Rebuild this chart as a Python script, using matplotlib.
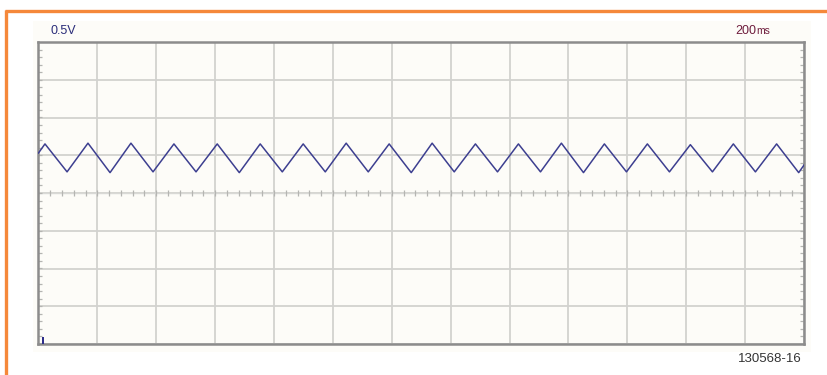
import numpy as np
import matplotlib.pyplot as plt
from matplotlib.patches import Rectangle
from matplotlib.lines import Line2D

# ── trace vertices (ms, V) ──────────────────────────────────────────────────
t_ms = [0, 22, 97, 168, 243, 314, 389, 460, 535, 607, 682, 753, 828, 899, 974,
        1045, 1120, 1191, 1266, 1337, 1412, 1484, 1559, 1630, 1705, 1776, 1851,
        1922, 1997, 2068, 2143, 2214, 2289, 2360, 2435, 2507, 2582, 2600]
volts = [0.53, 0.65, 0.28, 0.66, 0.27, 0.66, 0.28, 0.65, 0.28, 0.65, 0.27, 0.65,
         0.28, 0.65, 0.28, 0.66, 0.28, 0.65, 0.27, 0.66, 0.28, 0.65, 0.28, 0.65,
         0.28, 0.66, 0.27, 0.65, 0.28, 0.65, 0.28, 0.64, 0.28, 0.65, 0.28, 0.65,
         0.27, 0.37]

volts_div = 0.5      # V per division
time_div = 200       # ms per division
n_x_div, n_y_div = 13, 8
figure_label = '130568-16'

W, H = 828, 375
fig = plt.figure(figsize=(W / 100, H / 100), dpi=100)
fig.patch.set_facecolor('white')

# orange page border (top + left)
fig.add_artist(Line2D([5.5 / W, 1], [1 - 10.5 / H] * 2, color='#f5883a', lw=2.4,
                      transform=fig.transFigure, solid_capstyle='butt'))
fig.add_artist(Line2D([6 / W] * 2, [0, 1 - 9.5 / H], color='#f5883a', lw=2.4,
                      transform=fig.transFigure, solid_capstyle='butt'))

# cream screen background behind the graticule
fig.add_artist(Rectangle((33 / W, 1 - 352 / H), (811 - 33) / W, (352 - 21) / H,
                         transform=fig.transFigure, facecolor='#fdfcf8',
                         edgecolor='none', zorder=0))

x0, x1, y0, y1 = 38.5, 804, 42, 344
ax = fig.add_axes([x0 / W, 1 - y1 / H, (x1 - x0) / W, (y1 - y0) / H])
ax.set_facecolor('#fdfcf8')

t_max = n_x_div * time_div
v_half = n_y_div / 2 * volts_div
ax.set_xlim(0, t_max)
ax.set_ylim(-v_half, v_half)
ax.set_xticks(np.arange(0, t_max + 1, time_div))
ax.set_yticks(np.arange(-v_half, v_half + 0.01, volts_div))
ax.tick_params(length=0, labelbottom=False, labelleft=False)
ax.grid(True, color='#d2d2cf', lw=1.3)
ax.set_axisbelow(True)
for s in ax.spines.values():
    s.set_color('#8c8c8c')
    s.set_linewidth(1.8)

# centre line with minor ticks
ax.axhline(0, color='#d9d9d6', lw=1.0, zorder=1)
minor_t = np.arange(0, t_max, time_div / 5)
ax.vlines(minor_t, -0.035, 0.035, color='#b5b5b2', lw=0.9, zorder=1)

# minor ticks on left and right frame edges
minor_v = np.arange(-v_half, v_half, volts_div / 5)
ax.hlines(minor_v, 0, 12, color='#b5b5b2', lw=0.9, zorder=1)
ax.hlines(minor_v, t_max - 12, t_max, color='#b5b5b2', lw=0.9, zorder=1)

# trace
ax.plot(t_ms, volts, color='#3d3f90', lw=1.1, zorder=3)

# channel marker at bottom-left
ax.add_patch(Rectangle((12, -v_half), 8, 0.09, facecolor='#2e2e8a',
                       edgecolor='none', zorder=4, clip_on=False))

fig.text(51 / W, 1 - 31 / H, '0.5V', color='#2b2d7a', fontsize=9,
         family='Liberation Sans', va='center', ha='left')
fig.text(735 / W, 1 - 31 / H, '200', color='#6e1c3c', fontsize=9,
         family='Liberation Sans', va='center', ha='left')
fig.text(756.5 / W, 1 - 31.5 / H, 'ms', color='#6e1c3c', fontsize=7.5,
         family='Liberation Sans', va='center', ha='left')
fig.text(802 / W, 1 - 359 / H, figure_label, color='#333333', fontsize=9.5,
         family='Liberation Sans', va='center', ha='right')

fig.savefig('out.png', dpi=100, facecolor='white')
